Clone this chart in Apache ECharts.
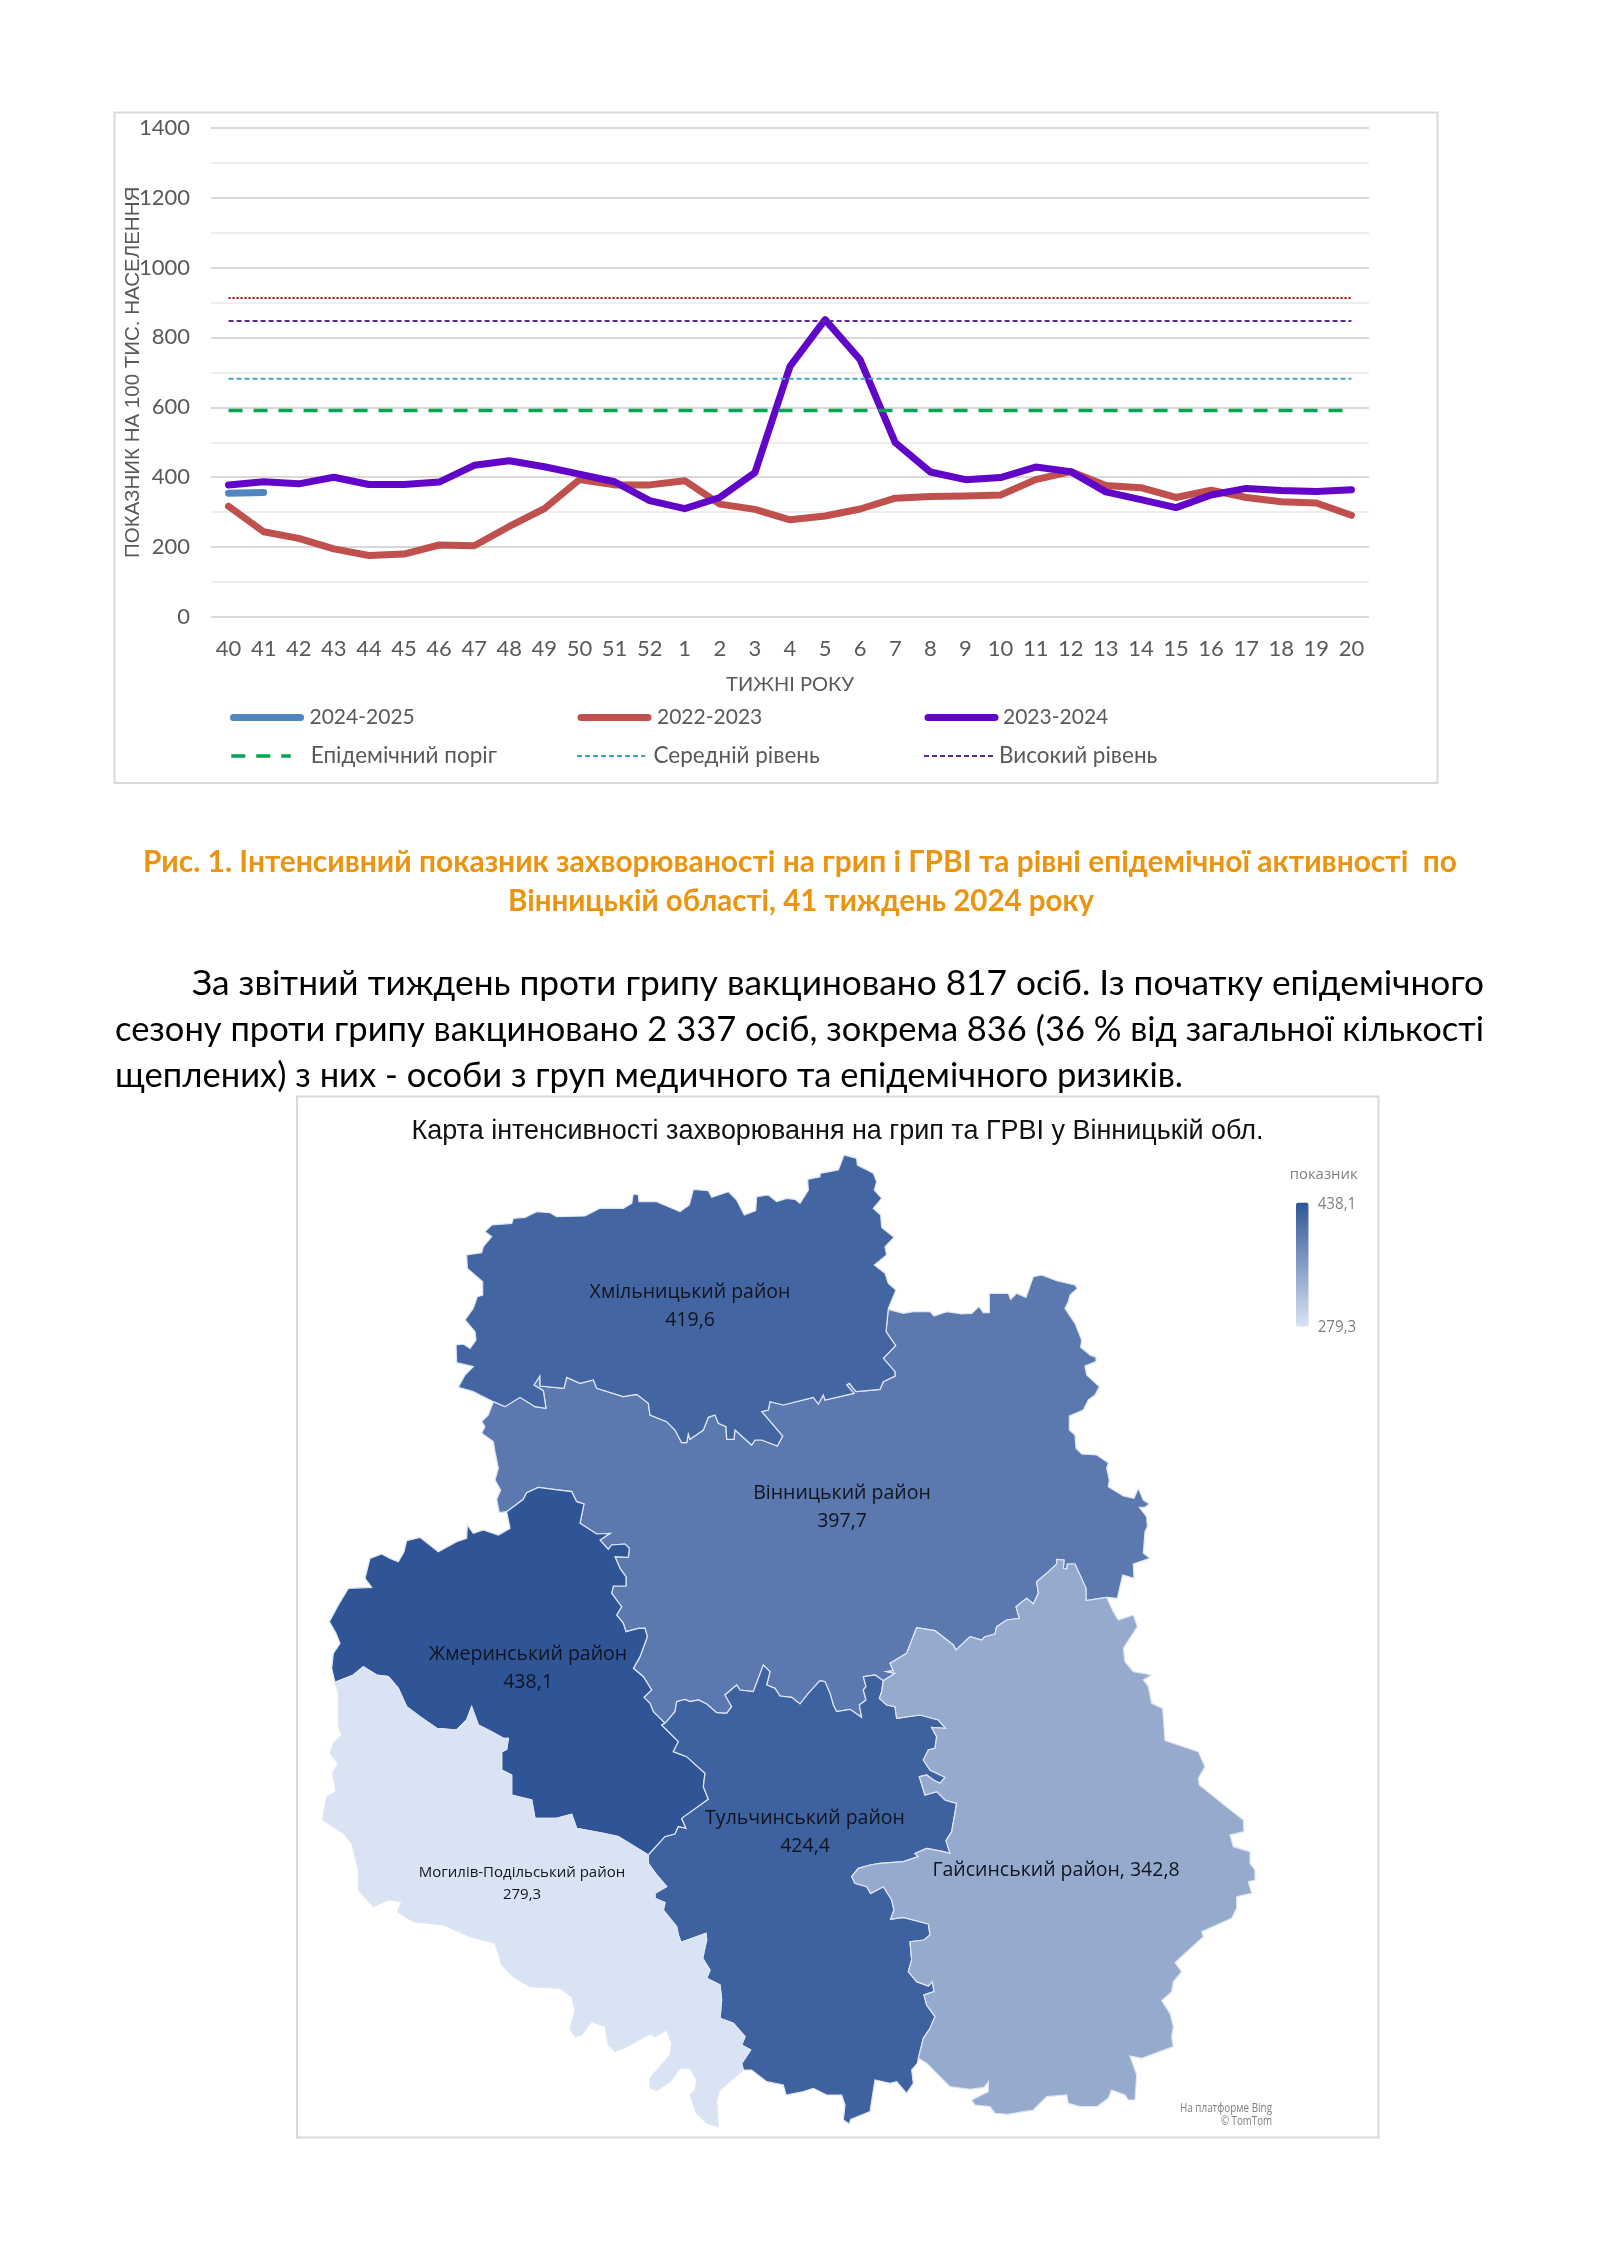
<!DOCTYPE html>
<html>
<head>
<meta charset="utf-8">
<style>html,body{margin:0;padding:0;background:#fff}#c{width:1600px;height:2262px}</style>
<script src="https://cdn.jsdelivr.net/npm/echarts@6/dist/echarts.min.js"></script>
</head>
<body>
<div id="c"></div>
<script>
// ---------- line chart data ----------
const weeks = ['40','41','42','43','44','45','46','47','48','49','50','51','52','1','2','3','4','5','6','7','8','9','10','11','12','13','14','15','16','17','18','19','20'];
const season2425 = [354,356];
const season2223 = [317,244,225,195,176,180,206,204,259,310,393,378,378,390,323,308,278,289,309,340,345,346,349,393,416,376,370,342,363,342,330,326,291];
const season2324 = [378,387,381,400,379,379,386,434,447,430,409,387,333,310,342,413,717,851,736,499,415,393,399,429,416,358,336,313,349,368,362,359,364];
const epidThreshold = [591,591,591,591,591,591,591,591,591,591,591,591,591,591,591,591,591,591,591,591,591,591,591,591,591,591,591,591,591,591,591,591,591];
const mediumLevel = [682,682,682,682,682,682,682,682,682,682,682,682,682,682,682,682,682,682,682,682,682,682,682,682,682,682,682,682,682,682,682,682,682];
const highLevel = [847,847,847,847,847,847,847,847,847,847,847,847,847,847,847,847,847,847,847,847,847,847,847,847,847,847,847,847,847,847,847,847,847];
const veryHighLevel = [913,913,913,913,913,913,913,913,913,913,913,913,913,913,913,913,913,913,913,913,913,913,913,913,913,913,913,913,913,913,913,913,913];

// ---------- map data ----------
const districtNames = ['Вінницький район','Хмільницький район','Жмеринський район','Тульчинський район','Гайсинський район','Могилів-Подільський район'];
const districtValues = [397.7,419.6,438.1,424.4,342.8,279.3];
const legendRange = [279.3,438.1];

const crop = (ox,oy,pts)=>pts.map(([x,y])=>[ox+x/3,oy+y/3]);
const A=[440,1140], B6=[780,1260], C7=[310,1480], D8=[780,1680], E9=[480,1780];
const khmOuter = crop(...A,[[160,785],[130,770],[100,755],[55,742],[75,705],[100,680],[50,668],[48,615],[70,612],[90,625],[108,600],[105,575],[75,540],[100,505],[112,470],[128,465],[128,425],[82,385],[80,345],[125,338],[130,320],[155,290],[135,275],[155,255],[215,250],[220,235],[255,232],[290,215],[330,218],[350,230],[435,228],[480,205],[550,205],[575,190],[580,162],[595,165],[597,185],[650,185],[720,215],[748,195],[760,148],[805,152],[815,172],[865,155],[890,180],[913,225],[947,212],[950,170],[985,165],[1010,185],[1040,175],[1065,178],[1080,190],[1105,150],[1103,118],[1140,110],[1140,100],[1195,90],[1212,45],[1250,55],[1252,75],[1300,100],[1310,125],[1303,150],[1325,175],[1300,205],[1322,225],[1325,262],[1362,292],[1335,320],[1340,345],[1303,375],[1335,400],[1345,430],[1368,450],[1345,505]]);
const khmVin = crop(...A,[[1345,505],[1338,575],[1367,617],[1330,655],[1365,695],[1365,708],[1330,725],[1320,748],[1248,755],[1228,730],[1220,735],[1242,760],[1155,780],[1150,765],[1135,792],[1120,772],[1030,795],[990,785],[985,810],[965,815],[1028,888],[1012,918],[965,900],[945,900],[935,915],[885,870],[882,898],[860,898],[858,860],[835,850],[825,825],[805,832],[790,870],[750,898],[745,882],[740,908],[725,908],[705,870],[680,845],[630,825],[625,790],[590,763],[550,770],[470,745],[460,720],[420,730],[380,712],[372,745],[300,738],[300,708],[282,735],[310,752],[318,805],[285,800],[240,772],[195,800],[160,785]]);
const vinOuterEast = crop(...B6,[[325,148],[370,160],[400,155],[450,155],[462,168],[500,155],[545,162],[575,160],[597,140],[610,158],[628,158],[628,100],[685,100],[692,118],[710,100],[738,112],[760,50],[785,45],[830,62],[885,75],[892,85],[870,105],[865,125],[855,145],[885,190],[905,240],[902,262],[930,285],[948,292],[948,305],[915,318],[920,345],[958,380],[945,405],[925,420],[910,450],[868,468],[868,510],[885,525],[888,565],[905,582],[950,585],[985,608],[980,625],[988,660],[985,680],[1030,708],[1062,715],[1075,685],[1090,720],[1108,732],[1095,742],[1078,742],[1100,770],[1102,800],[1095,815],[1090,880],[1110,895],[1060,912],[1062,955],[1028,945],[1012,1015],[980,1012]]);
const vinGai = crop(...B6,[[980,1012],[918,1022],[918,985],[885,912],[862,912],[860,928],[850,925],[852,900],[830,898],[830,912],[800,940],[770,965],[775,1000],[760,1032],[740,1015],[708,1040],[718,1075],[680,1080],[650,1100],[645,1122],[615,1130],[605,1140],[570,1130],[528,1170],[520,1155],[465,1112],[410,1103],[380,1180],[330,1210],[340,1232],[320,1235],[345,1240],[310,1262]]);
const vinTul = crop(...B6,[[310,1262],[285,1245],[250,1250],[258,1280],[250,1290],[258,1320],[238,1335],[245,1372],[210,1348],[170,1355],[160,1335],[150,1300],[135,1265],[120,1262],[85,1300],[60,1332],[35,1312],[0,1308]]).concat(crop(...C7,[[1395,625],[1370,615],[1380,575],[1360,555],[1330,635],[1290,630],[1280,615],[1245,645],[1265,680],[1250,700],[1220,698],[1190,672],[1165,660],[1140,665],[1125,658],[1100,665],[1095,695],[1065,730]]));
const vinZhm = crop(...C7,[[1065,730],[1030,695],[1020,670],[1002,652],[1025,630],[1000,590],[970,565],[990,530],[1012,470],[1005,445],[985,445],[948,455],[940,430],[920,405],[935,380],[905,340],[910,318],[948,318],[948,290],[930,265],[915,230],[955,232],[958,205],[945,192],[905,195],[895,208],[870,180],[900,160],[860,162],[810,130],[822,72],[800,65],[785,35],[730,28],[685,22],[650,38],[640,58],[590,95]]);
const vinOuterWest = crop(...A,[[200,1115],[178,1118],[170,1078],[182,1050],[165,1020],[175,985],[165,935],[160,905],[125,880],[135,860],[125,845],[145,825],[160,785]]);
const zhmOuter = crop(...C7,[[590,95],[600,145],[565,165],[520,150],[490,160],[472,135],[470,175],[440,185],[385,215],[330,172],[290,182],[282,215],[265,245],[240,235],[215,222],[180,235],[165,295],[185,322],[115,325],[85,375],[58,425],[78,460],[90,490],[70,520],[65,565],[75,607]]);
const zhmMoh = crop(...C7,[[75,607],[130,585],[160,560],[200,585],[235,590],[265,625],[290,680],[330,710],[380,745],[440,750],[470,720],[485,680],[505,735],[545,755],[580,775],[595,775],[590,808],[575,815],[575,870],[605,885],[605,945],[665,960],[675,1015],[740,1015],[785,1003],[800,1045],[880,1060],[925,1070],[1015,1125]]);
const zhmTul = crop(...C7,[[1065,730],[1055,735],[1105,785],[1090,815],[1130,830],[1185,880],[1180,920],[1195,958],[1115,1015],[1128,1045],[1105,1040],[1095,1062],[1065,1070],[1015,1125]]);
const mohOuter = crop(...C7,[[75,607],[85,640],[85,740],[95,765],[70,790],[60,820],[85,850],[68,880],[78,935],[50,950],[38,1020],[100,1060],[125,1090],[145,1170],[145,1230],[190,1280],[235,1260],[275,1265],[262,1295],[310,1325],[400,1335],[480,1370]]).concat(crop(...E9,[[45,490],[55,520],[65,555],[100,590],[150,620],[240,625],[275,650],[285,690],[270,745],[285,770],[305,765],[335,725],[375,740],[385,795],[405,815],[430,805],[510,762],[525,770],[560,750],[575,790],[570,825],[510,895],[510,925],[530,932],[570,905],[600,865],[630,865],[650,900],[645,930],[630,945],[650,1000],[680,1030],[715,1040],[710,960],[720,930],[790,870]]));
const mohTul = crop(...E9,[[505,235],[505,250],[530,285],[560,320],[525,340],[525,355],[555,368],[550,390],[590,440],[595,465],[603,487],[678,460],[680,480],[668,535],[690,570],[680,595],[720,615],[725,660],[720,715],[760,730],[795,770],[785,795],[812,810],[785,850],[790,870]]);
const tulSouth = crop(...E9,[[790,870],[815,870],[860,905],[910,915],[918,945],[970,935],[1000,925],[1040,945],[1085,945]]).concat(crop(...D8,[[195,1275],[190,1320],[208,1332],[212,1318],[270,1295],[285,1200],[330,1210],[350,1205],[380,1240],[400,1210],[395,1170],[412,1150],[415,1135]]));
const gaiTul = crop(...D8,[[310,2],[305,35],[298,55],[320,75],[345,80],[350,115],[420,105],[475,120],[497,145],[455,142],[470,170],[465,205],[445,210],[430,240],[450,270],[495,292],[480,310],[460,300],[440,285],[418,290],[435,345],[470,335],[495,360],[530,370],[515,455],[498,482],[510,520],[490,515],[440,505],[405,520],[415,530],[370,545],[300,550],[270,555],[235,565],[215,590],[225,610],[260,620],[272,640],[310,620],[335,660],[342,690],[332,718],[370,712],[445,732],[450,765],[432,780],[390,785],[395,840],[385,875],[410,905],[445,918],[457,905],[462,935],[432,945],[440,975],[465,1010],[450,1045],[430,1075],[415,1135]]);
const gaiOuter = crop(...D8,[[415,1135],[440,1150],[480,1190],[510,1220],[570,1228],[612,1222],[625,1205],[625,1235],[575,1260],[585,1275],[630,1280],[645,1300],[685,1303],[730,1295],[760,1290],[800,1250],[860,1245],[865,1270],[900,1280],[950,1280],[985,1255],[995,1230],[1035,1245],[1045,1260],[1065,1260],[1070,1185],[1050,1128],[1085,1135],[1180,1100],[1175,1070],[1180,1040],[1170,1000],[1145,962],[1175,935],[1180,905],[1205,875],[1185,848],[1270,770],[1265,755],[1355,715],[1370,685],[1370,650],[1415,640],[1405,605],[1425,600],[1425,570],[1410,550],[1410,515],[1360,500],[1350,465],[1392,455],[1390,420],[1345,385],[1258,315],[1255,295],[1275,260],[1255,215],[1155,182],[1148,85],[1115,70],[1105,20],[1090,0]]).concat(crop(...B6,[[1115,1245],[1090,1240],[1060,1235],[1035,1205],[1030,1165],[1072,1100],[1060,1065],[1015,1080],[1000,1055],[980,1012]]));

const rev = a=>a.slice().reverse();
const districtShapes = [
  {ring:[...vinOuterEast,...vinGai,...vinTul,...vinZhm,...vinOuterWest,...rev(khmVin)], labelAt:[842,1507]},
  {ring:[...khmOuter,...khmVin], labelAt:[690,1306]},
  {ring:[...zhmOuter,...zhmMoh,...rev(zhmTul),...vinZhm], labelAt:[528,1668]},
  {ring:[...zhmTul,...mohTul,...tulSouth,...rev(gaiTul),...vinTul], labelAt:[805,1832]},
  {ring:[...gaiTul,...gaiOuter,...vinGai], labelAt:[1056,1870]},
  {ring:[...mohOuter,...rev(mohTul),...rev(zhmMoh)], labelAt:[522,1884]}
];
echarts.registerMap('vinnytsia',{type:'FeatureCollection',features:districtNames.map((name,i)=>({
  type:'Feature',properties:{name,cp:districtShapes[i].labelAt},
  geometry:{type:'Polygon',coordinates:[[...districtShapes[i].ring,districtShapes[i].ring[0]]]}
}))});

// ---------- texts ----------
const fmt = v=>String(v).replace('.',',');
const CAL='Lato';
const measure=document.createElement('canvas').getContext('2d');
function line(text,x,y,width,size,color,opt={}){
  const weight=opt.weight||'normal', family=opt.family||CAL;
  measure.font=`${weight} ${size}px "${family}"`;
  const natural=measure.measureText(text).width;
  return {type:'text',x,y,scaleX:width?width/natural:1,z:10,silent:true,
    style:{text,x:0,y:0,fill:color,fontSize:size,fontFamily:family,fontWeight:weight,
      textAlign:opt.align||'left',textVerticalAlign:'middle'}};
}
const frame=(x,y,w,h)=>({type:'rect',silent:true,z:0,shape:{x,y,width:w,height:h},style:{fill:'none',stroke:'#d9d9d9',lineWidth:2}});
const graphics=[
  frame(114.5,112.5,1323,670.5),
  frame(297,1096.5,1081.5,1041),
  line('Рис. 1. Інтенсивний показник захворюваності на грип і ГРВІ та рівні епідемічної активності  по',800,862,1314,30,'#ea9410',{weight:'bold',align:'center'}),
  line('Вінницькій області, 41 тиждень 2024 року',801,901,586,30,'#ea9410',{weight:'bold',align:'center'}),
  line('За звітний тиждень проти грипу вакциновано 817 осіб. Із початку епідемічного',192,984,1292,35,'#000'),
  line('сезону проти грипу вакциновано 2 337 осіб, зокрема 836 (36 % від загальної кількості',115,1030,1369,35,'#000'),
  line('щеплених) з них - особи з груп медичного та епідемічного ризиків.',115,1076,1068,35,'#000'),
  line('Карта інтенсивності захворювання на грип та ГРВІ у Вінницькій обл.',837.5,1132,852,27,'#111',{family:'Liberation Sans',align:'center'}),
  line('показник',1323.7,1175,68,15,'#7f7f7f',{family:'Open Sans',align:'center'}),
  line(fmt(legendRange[1]),1317.7,1204,38.5,16,'#7f7f7f',{family:'Open Sans'}),
  line(fmt(legendRange[0]),1317.7,1327.5,38.5,16,'#7f7f7f',{family:'Open Sans'}),
  line('На платформе Bing',1272,2108,92,13,'#7f7f7f',{family:'Open Sans',align:'right'}),
  line('© TomTom',1272,2121,51,13,'#7f7f7f',{family:'Open Sans',align:'right'})
];

// ---------- chart ----------
const lineSeries=[
  {name:'2022-2023',data:season2223,color:'#c0504d',width:7,type:'solid'},
  {name:'2023-2024',data:season2324,color:'#6106c9',width:7,type:'solid'},
  {name:'2024-2025',data:season2425,color:'#4f86c0',width:7,type:'solid'},
  {name:'Епідемічний поріг',data:epidThreshold,color:'#00a651',width:3.5,type:[14,11]},
  {name:'Середній рівень',data:mediumLevel,color:'#3fa9b5',width:2,type:[5,3]},
  {name:'Високий рівень',data:highLevel,color:'#5b2a9d',width:2,type:[5,3]},
  {name:'Дуже високий рівень',data:veryHighLevel,color:'#c00000',width:2,type:[2,2]}
].map(s=>({type:'line',name:s.name,data:s.data,symbol:'none',smooth:false,color:s.color,silent:true,
  lineStyle:{color:s.color,width:s.width,type:s.type,cap:s.type==='solid'?'round':'butt',join:'round'}}));

const legendCells=[
  ['2024-2025',230,717.5,67,4,21],['2022-2023',577.5,717.5,67,4,21],['2023-2024',924.5,717.5,67,3,21],
  ['Епідемічний поріг',229.5,756,59.5,15,22.5],['Середній рівень',576,756,68.5,3,22.5],['Високий рівень',923,756,70,0,22.5]
];
const legends=legendCells.map(([name,left,y,w,pad,size])=>{
  const ls=lineSeries.find(s=>s.name===name).lineStyle;
  return {data:[name],left,top:y-13,padding:0,itemWidth:w,itemHeight:14,selectedMode:false,
    itemStyle:{opacity:0},
    lineStyle:{color:ls.color,width:ls.width,type:ls.type,cap:ls.cap},
    textStyle:{fontFamily:CAL,fontSize:size,color:'#595959',lineHeight:26,padding:[0,0,0,pad]}};
});

const small='Могилів-Подільський район', oneLine='Гайсинський район';
const chart=echarts.init(document.getElementById('c'),null,{renderer:'canvas',width:1600,height:2262});
chart.setOption({
  animation:false,backgroundColor:'#fff',
  grid:{left:211,top:127.7,width:1158,height:489.3,containLabel:false},
  legend:legends,
  xAxis:{type:'category',data:weeks,boundaryGap:true,name:'ТИЖНІ РОКУ',nameLocation:'middle',nameGap:58,nameMoveOverlap:false,
    nameTextStyle:{fontFamily:CAL,fontSize:20,color:'#595959'},
    axisTick:{show:false},axisLine:{show:false},
    axisLabel:{interval:0,margin:21,fontFamily:CAL,fontSize:22,color:'#595959'}},
  yAxis:{type:'value',min:0,max:1400,interval:200,name:'ПОКАЗНИК НА 100 ТИС. НАСЕЛЕННЯ',nameLocation:'middle',nameGap:67,nameRotate:90,nameMoveOverlap:false,
    nameTextStyle:{fontFamily:'Liberation Sans',fontSize:20.5,color:'#595959'},
    axisLine:{show:false},axisTick:{show:false},
    axisLabel:{margin:21,fontFamily:CAL,fontSize:22,color:'#595959',formatter:v=>String(v)},
    splitLine:{show:true,lineStyle:{color:'#d9d9d9',width:2}},
    minorTick:{show:false,splitNumber:2},
    minorSplitLine:{show:true,lineStyle:{color:'#eeeeee',width:2}}},
  visualMap:{type:'continuous',seriesIndex:lineSeries.length,min:legendRange[0],max:legendRange[1],
    calculable:false,showLabel:false,text:null,left:1296,top:1202.5,itemWidth:12.6,itemHeight:124,padding:0,
    inRange:{color:['#dae3f3','#2f5597']}},
  graphic:{elements:graphics},
  series:[...lineSeries,{
    type:'map',map:'vinnytsia',projection:{project:p=>p,unproject:p=>p},
    left:0,top:0,width:1600,height:2262,boundingCoords:[[0,0],[1600,2262]],
    roam:false,selectedMode:false,silent:true,showLegendSymbol:false,
    itemStyle:{borderColor:'#dfe6f3',borderWidth:1.2},
    label:{show:true,color:'#10141f',fontFamily:'Open Sans',fontSize:19.5,lineHeight:28,
      formatter:p=>p.name===oneLine?`${p.name}, ${fmt(p.value)}`:`${p.name}\n${fmt(p.value)}`},
    emphasis:{disabled:true},
    data:districtNames.map((name,i)=>name===small
      ?{name,value:districtValues[i],label:{fontSize:15,lineHeight:22}}
      :{name,value:districtValues[i]})
  }]
});
</script>
</body>
</html>
